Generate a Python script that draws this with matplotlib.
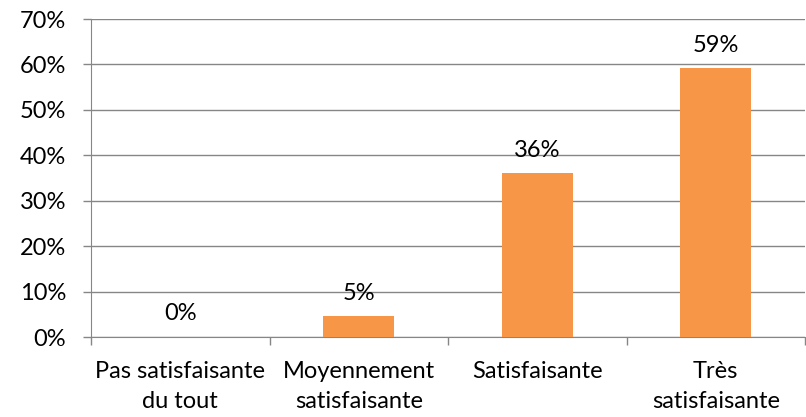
import matplotlib.pyplot as plt
from matplotlib.ticker import FixedLocator, PercentFormatter

plt.rcParams['font.family'] = ['Lato', 'DejaVu Sans']

# categories and values (percent)
categories = ['Pas satisfaisante\ndu tout', 'Moyennement\nsatisfaisante',
              'Satisfaisante', 'Très\nsatisfaisante']
values = [0.0, 4.6, 36.0, 59.2]

fig = plt.figure(figsize=(8.06, 4.17), dpi=100)
ax = fig.add_axes([91 / 806, 1 - 337 / 417, 714 / 806, 318 / 417])

x = range(len(categories))
ax.bar(x, values, width=0.4, color='#F79646', zorder=3)

for xi, v in zip(x, values):
    ax.annotate(f'{v:.0f}%', (xi, v), xytext=(0, 9), textcoords='offset points',
                ha='center', va='bottom', fontsize=17, color='#000000')

ax.set_xlim(-0.5, len(categories) - 0.5)
ax.set_ylim(0, 70)
ax.set_yticks(range(0, 71, 10))
ax.yaxis.set_major_formatter(PercentFormatter(decimals=0))
ax.grid(axis='y', color='#868686', linewidth=1, zorder=0)

ax.set_xticks(list(x))
ax.set_xticklabels(categories, fontsize=17, linespacing=1.55)
ax.xaxis.set_minor_locator(FixedLocator([i - 0.5 for i in range(len(categories) + 1)]))
ax.tick_params(axis='x', which='major', length=0, pad=17)
ax.tick_params(axis='x', which='minor', length=6, color='#868686', width=1)
ax.tick_params(axis='y', length=6, color='#868686', width=1, labelsize=17, pad=12)

for side in ['top', 'right']:
    ax.spines[side].set_visible(False)
for side in ['left', 'bottom']:
    ax.spines[side].set_color('#868686')

fig.savefig('out.png', dpi=100)
